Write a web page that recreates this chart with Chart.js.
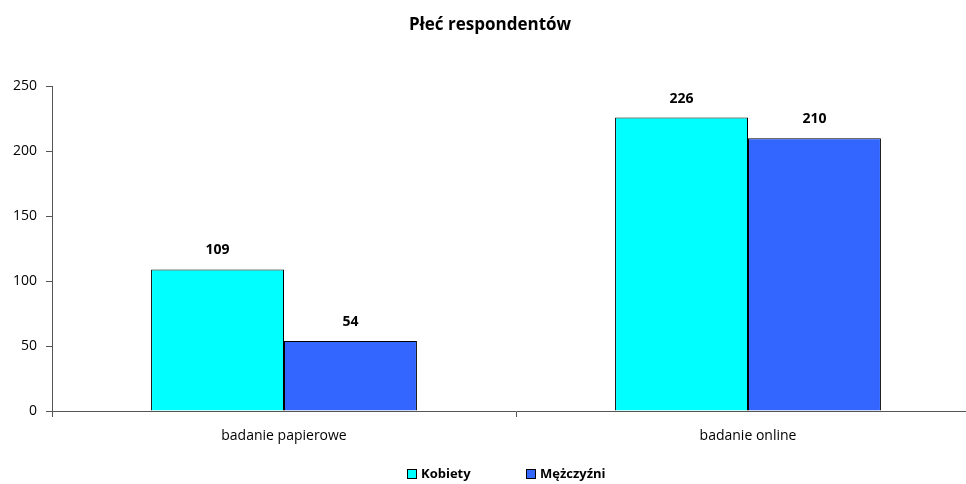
<!DOCTYPE html>
<html>
<head>
<meta charset="utf-8">
<script src="https://cdn.jsdelivr.net/npm/chart.js@4/dist/chart.umd.min.js"></script>
<style>
  html, body { margin: 0; padding: 0; background: #fff; overflow: hidden; }
  .wrap { position: relative; width: 980px; height: 484px; }
</style>
</head>
<body>
<div class="wrap"><canvas class="bar"></canvas></div>
<script>
const categories = ['badanie papierowe', 'badanie online'];
const kobiety = [109, 226];
const mezczyzni = [54, 210];
const yTicks = [0, 50, 100, 150, 200, 250];

const FONT = '"Open Sans", "DejaVu Sans", sans-serif';
const AXIS_COLOR = '#555555';

var ChartData = {
  labels: categories,
  datasets: [{
    label: 'Kobiety',
    data: kobiety,
    backgroundColor: '#00ffff',
    borderColor: '#000000',
    borderWidth: 1,
  },
  {
    label: 'Mężczyźni',
    data: mezczyzni,
    backgroundColor: '#3366ff',
    borderColor: '#000000',
    borderWidth: 1,
  }]
};

// value above every bar
const valueLabels = {
  id: 'value_labels',
  afterDatasetsDraw: (chart) => {
    const ctx = chart.ctx;
    ctx.save();
    ctx.font = 'bold 14px ' + FONT;
    ctx.fillStyle = '#000';
    ctx.textAlign = 'center';
    ctx.textBaseline = 'middle';
    chart.data.datasets.forEach((dataset, i) => {
      chart.getDatasetMeta(i).data.forEach((bar, j) => {
        ctx.fillText(dataset.data[j], bar.x, bar.y - 19);
      });
    });
    ctx.restore();
  }
};

// legend at bottom, items spaced like the original
const bottomLegend = {
  id: 'bottom_legend',
  afterDraw: (chart) => {
    const ctx = chart.ctx;
    const starts = [407, 526];
    const y = 474;
    ctx.save();
    ctx.font = 'bold 13px ' + FONT;
    ctx.textBaseline = 'middle';
    ctx.textAlign = 'left';
    chart.data.datasets.forEach((dataset, i) => {
      const x = starts[i];
      ctx.fillStyle = dataset.backgroundColor;
      ctx.fillRect(x, y - 5, 10, 10);
      ctx.strokeStyle = '#000';
      ctx.lineWidth = 1;
      ctx.strokeRect(x + 0.5, y - 4.5, 9, 9);
      ctx.fillStyle = '#000';
      ctx.fillText(dataset.label, x + 14, y);
    });
    ctx.restore();
  }
};

var ChartOptions = {
  responsive: true,
  maintainAspectRatio: false,
  animation: false,
  layout: { padding: { left: 0, right: 0, top: 0, bottom: 0 } },
  plugins: {
    legend: { display: false },
    tooltip: { enabled: false },
    title: {
      display: true,
      text: 'Płeć respondentów',
      color: '#000',
      font: { family: FONT, size: 17, weight: 'bold' },
      padding: { top: 15, bottom: 51 },
    },
  },
  datasets: {
    bar: { barPercentage: 1.0, categoryPercentage: 0.573 }
  },
  scales: {
    x: {
      afterFit: (scale) => { scale.height = 73; },
      border: { display: true, color: AXIS_COLOR, width: 1 },
      grid: {
        offset: true,
        drawOnChartArea: false,
        drawTicks: true,
        tickLength: 6,
        color: AXIS_COLOR,
      },
      ticks: {
        color: '#000',
        padding: 11,
        font: { family: FONT, size: 14 },
      },
    },
    y: {
      min: 0,
      max: 250,
      afterFit: (scale) => { scale.width = 52; },
      afterBuildTicks: (scale) => { scale.ticks = yTicks.map(v => ({ value: v })); },
      border: { display: true, color: AXIS_COLOR, width: 1 },
      grid: {
        drawOnChartArea: false,
        drawTicks: true,
        tickLength: 6,
        color: AXIS_COLOR,
      },
      ticks: {
        color: '#000',
        padding: 9,
        font: { family: FONT, size: 14 },
      },
    },
  },
};

chartBar = new Chart(document.querySelector('.bar').getContext('2d'), {
  type: 'bar',
  data: ChartData,
  plugins: [valueLabels, bottomLegend],
  options: ChartOptions,
});
</script>
</body>
</html>
